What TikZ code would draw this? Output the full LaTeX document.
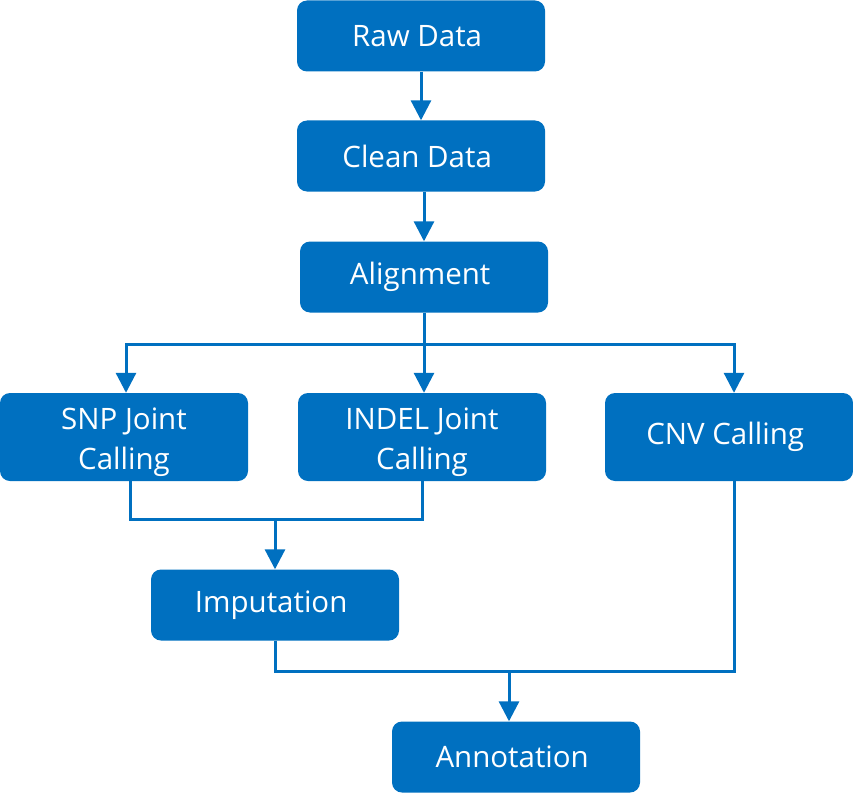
\documentclass[tikz,border=0pt]{standalone}
\usepackage{fontspec}
\setmainfont{Open Sans}
\usetikzlibrary{positioning, arrows.meta}
\definecolor{boxblue}{HTML}{0070C0}

\begin{document}
\begin{tikzpicture}[x=1pt, y=-1pt,
    every node/.style = { draw = none, fill = boxblue, text = white, align = center,
      rounded corners = 10pt, minimum width = 248pt, minimum height = 71pt,
      inner sep = 0pt, font = \fontsize{29.5}{40}\selectfont },
    link/.style = { draw = boxblue, line width = 3pt },
    arrow/.style = { link, -{Triangle[width = 20pt, length = 20pt]} }]
    \useasboundingbox (0,0) rectangle (853,797);

    % main column
    \node (raw)   at (421,36)  { Raw Data };
    \node (clean) at (421,156) { Clean Data };
    \node (align) at (424,277) { Alignment };

    % callers
    \node [minimum height = 88pt] (snp)   at (124,437) { \rule{0pt}{32pt}SNP Joint \\ Calling };
    \node [minimum height = 88pt] (indel) at (422,437) { \rule{0pt}{32pt}INDEL Joint \\ Calling };
    \node [minimum height = 88pt] (cnv)   at (729,437) { CNV Calling };

    \node (imp)   at (275,605) { Imputation };
    \node (annot) at (516,757) { Annotation };

    \coordinate (split) at (424,344);
    \coordinate (joinA) at (275,519);
    \coordinate (joinB) at (509,671);

    \draw [arrow] (raw) -- (raw |- clean.north);
    \draw [arrow] (clean.south -| align) -- (align);
    \draw [link] (align) -- (split);
    \draw [arrow] (split) -| ([xshift = 2pt]snp.north);
    \draw [arrow] (split) -- (indel.north -| split);
    \draw [arrow] (split) -| ([xshift = 5pt]cnv.north);

    \draw [link] ([xshift = 6pt]snp.south) |- (joinA);
    \draw [link] (indel.south) |- (joinA);
    \draw [arrow] (joinA) -- (imp);

    \draw [link] (imp.south) |- (joinB);
    \draw [link] ([xshift = 5pt]cnv.south) |- (joinB);
    \draw [arrow] (joinB) -- (joinB |- annot.north);
\end{tikzpicture}
\end{document}
